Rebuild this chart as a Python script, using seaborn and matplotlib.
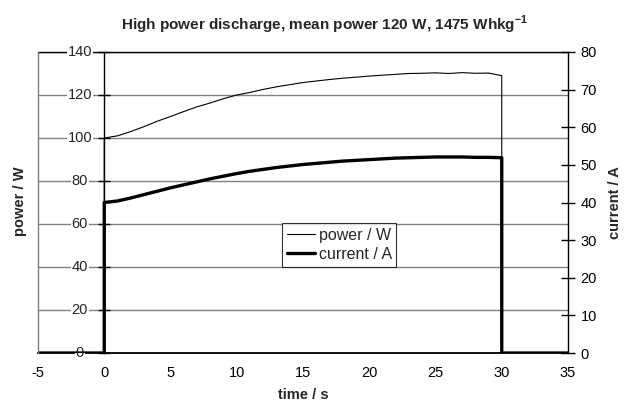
import seaborn as sns
import matplotlib.pyplot as plt
import pandas as pd

sns.set_style("white")
plt.rcParams['font.family'] = ['Liberation Sans', 'DejaVu Sans']
plt.rcParams['axes.unicode_minus'] = False
plt.rcParams['mathtext.fontset'] = 'custom'
plt.rcParams['mathtext.rm'] = 'Liberation Sans'
plt.rcParams['mathtext.bf'] = 'Liberation Sans:bold'

# Discharge profile
time_s = [-5, 0] + list(range(0, 31)) + [30, 35]
power_w = [0, 0,
           100.0, 101.0, 103.0, 105.3, 107.8, 110.0, 112.3, 114.5, 116.3, 118.3,
           120.0, 121.2, 122.6, 123.8, 124.8, 125.8, 126.5, 127.2, 127.8, 128.3,
           128.8, 129.2, 129.6, 130.0, 130.1, 130.3, 130.0, 130.4, 130.1, 130.2,
           129.0,
           0, 0]
current_a = [0, 0,
             40.0, 40.4, 41.2, 42.1, 43.0, 43.9, 44.7, 45.5, 46.3, 47.0,
             47.7, 48.3, 48.8, 49.3, 49.7, 50.1, 50.4, 50.7, 51.0, 51.2,
             51.4, 51.6, 51.8, 51.9, 52.0, 52.1, 52.1, 52.1, 52.0, 52.0,
             51.9,
             0, 0]

x_ticks = list(range(-5, 36, 5))
power_ticks = list(range(0, 141, 20))
current_ticks = list(range(0, 81, 10))

df = pd.DataFrame({'time': time_s, 'power': power_w, 'current': current_a})

fig = plt.figure(figsize=(6.25, 4.03), dpi=100)
ax = fig.add_axes([0.0608, 0.124, 0.848, 0.747])
ax2 = ax.twinx()

sns.lineplot(data=df, x='time', y='power', ax=ax, color='black', lw=0.8,
             estimator=None, sort=False, label='power / W', legend=False)
sns.lineplot(data=df, x='time', y='current', ax=ax2, color='black', lw=2.4,
             estimator=None, sort=False, label='current / A', legend=False)

ax.set_xlim(-5, 35)
ax.set_ylim(0, 140)
ax2.set_ylim(0, 80)
ax.set_xticks(x_ticks)
ax.set_yticks(power_ticks)
ax2.set_yticks(current_ticks)

# horizontal grid
ax.set_axisbelow(True)
ax.grid(axis='y', color='#808080', lw=1.0)
ax.grid(axis='x', visible=False)

# spines
ax.spines['left'].set_position(('data', 0))
ax.spines['left'].set_color('black')
ax.spines['left'].set_linewidth(1.0)
ax.spines['bottom'].set_color('black')
ax.spines['bottom'].set_linewidth(1.3)
ax.spines['top'].set_color('black')
ax.spines['top'].set_linewidth(1.0)
ax.spines['right'].set_visible(False)
ax2.spines['left'].set_color('#808080')
ax2.spines['left'].set_linewidth(1.0)
ax2.spines['right'].set_color('black')
ax2.spines['right'].set_linewidth(1.0)
ax2.spines['top'].set_visible(False)
ax2.spines['bottom'].set_visible(False)

ax.tick_params(axis='x', direction='out', length=5, width=1, colors='black',
               labelsize=10.5, pad=4)
ax.tick_params(axis='y', direction='inout', length=8, width=1, colors='black',
               labelleft=False)
ax2.tick_params(axis='y', direction='inout', length=10, width=1, colors='black',
                labelsize=10.5, pad=4)

# left tick labels sit on the gridlines with a white backing
for v in power_ticks:
    ax.text(-1.85, v, str(v), ha='center', va='center', fontsize=10.5, zorder=5,
            bbox=dict(facecolor='white', edgecolor='none', pad=0.5))

ax.set_xlabel('time / s', fontsize=10.5, fontweight='bold', labelpad=6)
ax.set_ylabel('')
ax2.set_ylabel('current / A', fontsize=10.5, fontweight='bold', labelpad=8)
fig.text(0.032, 0.5, 'power / W', rotation=90, ha='center', va='center',
         fontsize=10.5, fontweight='bold')
fig.suptitle(r'High power discharge, mean power 120 W, 1475 Whkg$^{\mathbf{-1}}$',
             x=0.52, y=0.967, fontsize=11, fontweight='bold')

h1, l1 = ax.get_legend_handles_labels()
h2, l2 = ax2.get_legend_handles_labels()
leg = ax2.legend(h1 + h2, l1 + l2, loc='upper left', bbox_to_anchor=(0.46, 0.432),
                 borderaxespad=0, fontsize=11.5, frameon=True, fancybox=False,
                 handlelength=1.8, handletextpad=0.2, borderpad=0.3,
                 labelspacing=0.25)
leg.get_frame().set_edgecolor('black')
leg.get_frame().set_linewidth(0.8)

plt.savefig('out.png', dpi=100)
